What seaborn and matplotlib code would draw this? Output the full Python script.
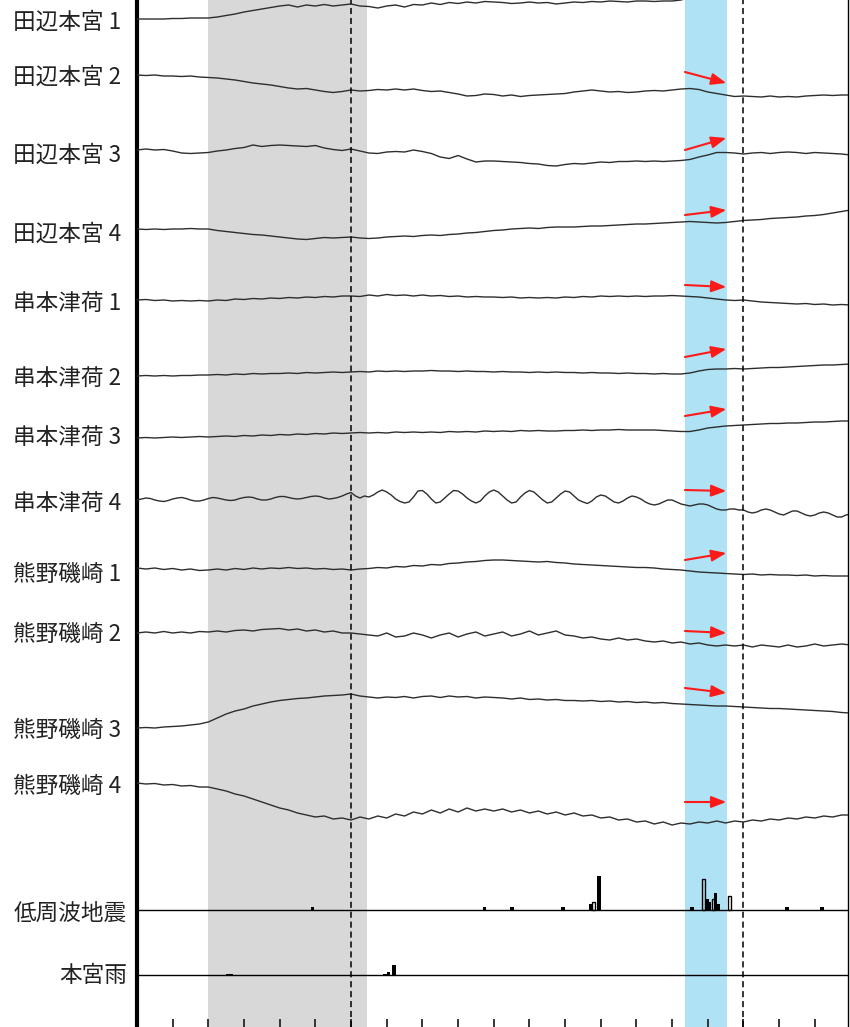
import numpy as np
import pandas as pd
import matplotlib
matplotlib.use('Agg')
import matplotlib.pyplot as plt
import seaborn as sns

# time axis: days, sampled every 6 hours (3 hours for the tidal-looking trace)
days = np.arange(0, 20.01, 0.25)
days_fine = np.arange(0, 20.01, 0.125)

stations = ['田辺本宮 1', '田辺本宮 2', '田辺本宮 3', '田辺本宮 4',
            '串本津荷 1', '串本津荷 2', '串本津荷 3', '串本津荷 4',
            '熊野磯崎 1', '熊野磯崎 2', '熊野磯崎 3', '熊野磯崎 4']

# tilt / strain changes (arbitrary units, up = positive)
tanabe1 = [0, 0, 0, 0, 0.5, 0.5, 1, 1, 1,
           2, 3.5, 5, 7, 8.5, 10, 11.5, 13,
           14, 12, 14, 13, 14.5, 13, 14, 15,
           13, 12.5, 11, 13, 14, 12, 14.5, 14,
           16, 14.5, 16.5, 15.5, 17, 16, 17.5, 17,
           16.5, 15.5, 16, 17, 16, 16.5, 15, 16,
           17, 16.5, 17.5, 17, 18, 17.5, 17, 18,
           18, 17.5, 18, 18, 19, 22, 26, 29,
           31, 33, 34, 35, 36, 37, 38, 39,
           39, 39, 39, 39, 39, 39, 39, 39]
tanabe2 = [0, -0.5, 0, -1, -1, -1.5, -1, -2, -2.5,
           -3, -4, -5, -6.5, -8, -9, -10, -11.5,
           -13, -14, -13.5, -15, -16.5, -17.5, -16.5, -15,
           -16, -15.5, -14.5, -15, -14, -15, -14, -15.5,
           -16.5, -16, -17.5, -19, -21, -20.5, -19, -19.5,
           -21, -20, -21.5, -20.5, -20, -19.5, -19, -18.5,
           -17, -16, -15, -16, -17, -16.5, -17.5, -17,
           -16, -15.5, -16, -15, -14, -13.5, -14.5, -17,
           -18.5, -20, -21.5, -21, -21.5, -22, -21, -22,
           -21.5, -22, -21, -20.5, -20, -20.5, -20, -20]
tanabe3 = [0, 1, 0, 0.5, -1, -3, -3.5, -3, -2.5,
           -1, 0, 1.5, 2.5, 5, 3.5, 4.5, 5,
           4.5, 4, 3.5, 4.5, 2, 0.5, -0.5, 1,
           -1, -3, -3.5, -2, -1.5, -2, 0, -1.5,
           -3.5, -7, -8.5, -5.5, -9, -12, -11, -11,
           -11.5, -12, -12.5, -13.5, -14, -15.5, -16, -14.5,
           -13.5, -14, -13, -12, -12.5, -11.5, -11.5, -11,
           -11.5, -11, -11.5, -11, -10.5, -9.5, -7, -5,
           -2.5, -2.5, -3, -4, -3, -2.5, -3.5, -2.5,
           -2, -2.5, -3.5, -2.5, -3, -3.5, -4, -5]
tanabe4 = [0, -0.5, 0, -0.5, 0, 0, 0.5, 0, 0,
           -1.5, -2.5, -3.5, -4.5, -5.5, -6, -7, -8,
           -9, -10, -10.5, -9.5, -8.5, -9, -8.5, -8,
           -9, -9.5, -9, -8, -7.5, -7, -7.5, -6.5,
           -6, -6.5, -5.5, -5, -4, -3.5, -2.5, -1.5,
           -1, 0, 0.5, 1, 0.5, 1.5, 2, 2,
           2, 2.5, 3, 3, 3.5, 4, 4.5, 5,
           5, 5.5, 6, 6.5, 7, 7.5, 7, 6.5,
           6, 6.5, 7.5, 8.5, 9, 9.5, 10.5, 11,
           11.5, 12, 13, 13.5, 14.5, 16, 17.5, 19]
kushimoto1 = [0, 0.5, -0.5, 0, -1, -0.5, -1, -0.5, -1,
              0, -0.5, 1, 0.5, 1.5, 1, 2, 1.5,
              2.5, 2, 3, 2.5, 3.5, 3, 4, 4,
              3.5, 5, 4, 5.5, 4.5, 5, 4, 5,
              4, 4.5, 3.5, 4, 3, 3.5, 3, 3,
              2.5, 3, 2, 2.5, 2, 2.5, 2, 3,
              2.5, 3.5, 3, 4, 3.5, 4, 3.5, 4,
              3.5, 4, 4, 4.5, 4, 3.5, 3, 2,
              1, 0, -0.5, 0, -1, -2, -2.5, -3,
              -3.5, -4, -3.5, -4.5, -4, -5, -4.5, -5]
kushimoto2 = [-1, -0.5, -1, -0.5, -1, -0.5, -0.5, 0, 0,
              0.5, 0, 1, 0.5, 1.5, 1, 1.5, 1.5,
              2, 1.5, 2.5, 2, 2.5, 3, 2.5, 3,
              3.5, 3, 4, 3.5, 4, 3.5, 4, 4,
              4.5, 4, 4, 3.5, 4, 3.5, 3.5, 3,
              3.5, 3, 3, 2.5, 3, 2.5, 3, 2.5,
              2.5, 2, 2.5, 2, 2, 1.5, 2, 1.5,
              1.5, 1, 1.5, 1, 1, 2, 4, 5.5,
              6, 6, 6.5, 6, 6.5, 7, 7.5, 7.5,
              8, 8.5, 9, 9.5, 10, 10, 10.5, 11]
kushimoto3 = [-1, -0.5, -1, -0.5, 0, -0.5, 0, 0.5, 0,
              0.5, 1, 0.5, 1.5, 1, 2, 1.5, 2.5,
              2, 3, 2.5, 3.5, 3, 4, 3.5, 4,
              4.5, 4, 4.5, 4, 5, 4.5, 5, 4.5,
              5, 4.5, 5.5, 5, 5.5, 5, 6, 5.5,
              6, 5.5, 6.5, 6, 6.5, 6, 6, 6.5,
              6.5, 7, 6.5, 7, 7, 7.5, 7, 7,
              7, 7, 6.5, 6, 5.5, 5.5, 7, 9,
              10, 11, 11.5, 12, 12.5, 13, 13.5, 13.5,
              14, 14, 14.5, 15, 15, 15.5, 16, 16]
# 3-hourly samples
kushimoto4 = [0,
              1, 2, 1.5, 0, -1, -1.5, -0.5, 1,
              2, 2.5, 1.5, 0, -1, -1, 0, 1.5,
              2.5, 2, 1, 0, -0.5, 0, 1.5, 2.5,
              3, 2.5, 1, 0, 0, 1, 2.5, 3.5,
              3.5, 2.5, 1.5, 1, 1.5, 2.5, 3.5, 4,
              3.5, 2, 1, 1.5, 2.5, 4, 6, 7.5,
              4, 2, 4, 3, 5, 8, 10, 8,
              5, 1, -1.5, -3, -2, 3, 9, 9.5,
              6, 1, -3, -2, 2, 6, 9.5, 9,
              6, 2, -1, -3, -1, 4, 8, 10,
              8, 4, 0, -3, -2, 3, 7, 9.5,
              8, 4, 0, -3, -2, 2, 6, 9,
              8, 4, 0, -2, -3.5, -1, 3, 5,
              4, 1, -2, -3, -1, 2, 4, 3,
              1, -2, -4, -5, -4, -2, 0, 0,
              -2, -4, -5, -6, -5, -4, -4, -5,
              -7, -9, -10, -10, -9, -9, -10, -10,
              -12, -13, -12, -10, -9, -10, -12, -14,
              -15, -13, -11, -11, -13, -15, -16, -15,
              -13, -12, -13, -15, -17, -17, -15, -14]
kumano1 = [0, -1, 0, -1.5, -0.5, -2, -1, -2.5, -2,
           -1, -2, -0.5, -1.5, 0, -1, 0, -0.5,
           0.5, -0.5, 0, -1, -0.5, -1.5, -1, -2,
           -1, -0.5, 0.5, 0, 1.5, 1, 2.5, 2,
           3.5, 3, 4.5, 5, 6, 6.5, 7.5, 8,
           8, 7.5, 7, 6.5, 6, 6.5, 5.5, 5,
           4, 3.5, 3, 2.5, 2, 1.5, 1, 0.5,
           0.5, 0, -1, -1.5, -2, -3, -4, -4.5,
           -5, -5.5, -6, -6.5, -6, -7, -6.5, -7,
           -7, -7.5, -7, -8, -7.5, -8, -8, -8]
kumano2 = [-1, 0, -1, 0.5, -1, 0, -1, 0.5, 0,
           1, 0, 1.5, 2, 1, 2.5, 3, 3.5,
           2, 3, 1, 2, 0, 1, -1, -1,
           -2, -3, -4, -1, -5, -4, -1, -3,
           -6, -3, -1, -5, -2, 0, -4, -2,
           0, -4, -2, 1, -3, -1, 1, -3,
           -4, -6, -5, -7, -8, -6, -8, -7,
           -9, -10, -9, -11, -10, -12, -11, -13,
           -14, -13, -14, -13, -15, -13, -14, -15,
           -13, -15, -14, -12, -14, -13, -12, -13]
kumano3 = [0, 0.5, 0, 1, 1.5, 2, 3, 4, 6,
           10, 14, 17, 19, 22, 24, 26, 27.5,
           28.5, 29.5, 30, 31, 32, 32.5, 33, 34,
           32, 31, 30, 31, 30.5, 31.5, 30, 31.5,
           32, 30.5, 32, 31, 31.5, 30, 31, 30.5,
           30, 29, 30, 28.5, 29, 28, 28.5, 27.5,
           27.5, 27, 27.5, 26.5, 27, 26, 26.5, 25.5,
           26, 25, 25.5, 24.5, 24, 23.5, 23, 22.5,
           22, 22, 21.5, 21, 20.5, 20, 19.5, 19.5,
           19, 18.5, 18, 17.5, 17, 16.5, 15.5, 15]
kumano4 = [0, -1, -0.5, -2, -1.5, -3, -2.5, -4, -4,
           -6, -8, -11, -13, -16, -19, -22, -25,
           -27, -30, -32, -34, -33, -36, -35, -37,
           -34, -36, -33, -35, -31, -33, -29, -31,
           -27, -30, -26, -29, -25, -28, -26, -28,
           -26, -29, -27, -30, -28, -31, -29, -32,
           -30, -33, -32, -35, -34, -37, -36, -39,
           -38, -41, -39, -42, -40, -41, -39, -40,
           -38, -40, -38, -39, -37, -38, -36, -37,
           -35, -36, -34, -35, -33, -34, -32, -32]

traces = [tanabe1, tanabe2, tanabe3, tanabe4,
          kushimoto1, kushimoto2, kushimoto3, kushimoto4,
          kumano1, kumano2, kumano3, kumano4]

# low frequency earthquakes (event day, count)
lfe_days = [4.93, 9.73, 10.51, 11.94, 12.72, 12.95, 15.56, 15.98, 16.05, 16.21, 16.31, 18.22, 19.2]
lfe_counts = [1, 1, 1, 1, 2, 12, 1, 4, 3, 6, 2, 1, 1]
lfe_days_other = [12.79, 15.88, 16.15, 16.6]
lfe_counts_other = [3, 11, 4, 5]

# rain at Hongu (day, mm)
rain_days = [2.55, 2.65, 6.95, 7.05, 7.2]
rain_mm = [0.5, 0.5, 0.5, 1, 3.5]

# layout (pixel rows from the top of the figure)
H = 1027
trace_rows = [19, 75, 150, 229, 300, 375, 437, 500, 568, 632, 728, 783]
label_rows = [22, 77, 155, 234, 303, 378, 437, 503, 574, 634, 730, 786]
lfe_row, rain_row = 910, 975
arrows = [(72, 83), (150, 138), (215, 210), (285, 287), (357, 349), (416, 409),
          (490, 491), (560, 553), (631, 633), (688, 693), (802, 802)]

sns.set_style('white')
plt.rcParams['font.family'] = ['Noto Sans CJK JP', 'DejaVu Sans']

fig = plt.figure(figsize=(8.5, 10.27), dpi=100)
ax = fig.add_axes([137 / 850, 0, 711 / 850, 1])
ax.set_xlim(0, 19.93)
ax.set_ylim(0, H)

ax.axvspan(2.0, 6.45, color='#d8d8d8', lw=0, zorder=0)
ax.axvspan(15.36, 16.54, color='#aee2f4', lw=0, zorder=0)
for d in (6.0, 17.0):
    ax.axvline(d, color='black', ls=(0, (4, 2.5)), lw=1.1, zorder=4)

frames = []
for name, vals, row in zip(stations, traces, trace_rows):
    t = days_fine if len(vals) == len(days_fine) else days
    frames.append(pd.DataFrame({'day': t, 'y': H - row + np.asarray(vals, float), 'station': name}))
df = pd.concat(frames, ignore_index=True)
sns.lineplot(data=df, x='day', y='y', units='station', estimator=None,
             color='#2e2e2e', lw=1.0, ax=ax, legend=False, zorder=3)

# event bars
ax.axhline(H - lfe_row, color='black', lw=1.0, zorder=3)
ax.axhline(H - rain_row, color='black', lw=1.0, zorder=3)
ax.bar(lfe_days, np.array(lfe_counts) * 2.8, width=0.09, bottom=H - lfe_row,
       color='black', lw=0, zorder=3)
ax.bar(lfe_days_other, np.array(lfe_counts_other) * 2.8, width=0.09, bottom=H - lfe_row,
       facecolor='none', edgecolor='black', lw=1.0, zorder=3)
ax.bar(rain_days, np.array(rain_mm) * 3, width=0.1, bottom=H - rain_row,
       color='black', lw=0, zorder=3)

for y0, y1 in arrows:
    ax.annotate('', xy=(16.52, H - y1), xytext=(15.36, H - y0),
                arrowprops=dict(arrowstyle='-|>,head_length=0.9,head_width=0.35',
                                color='#ff1a1a', lw=1.5, shrinkA=0, shrinkB=0), zorder=5)

for name, row in zip(stations, label_rows):
    fig.text(13 / 850, 1 - row / H, name, fontsize=16.3, va='center', ha='left', color='#222222')
fig.text(127 / 850, 1 - 913 / H, '低周波地震', fontsize=16.3, va='center', ha='right', color='#222222')
fig.text(127 / 850, 1 - 975 / H, '本宮雨', fontsize=16.3, va='center', ha='right', color='#222222')

ax.set_xticks(range(1, 20))
ax.set_yticks([])
ax.tick_params(axis='x', bottom=True, direction='in', length=6, width=1.3, labelbottom=False)
ax.set_xlabel('')
ax.set_ylabel('')
for s in ('top', 'bottom'):
    ax.spines[s].set_visible(False)
ax.spines['left'].set_linewidth(3)
ax.spines['left'].set_color('black')
ax.spines['right'].set_linewidth(1)
ax.spines['right'].set_color('black')

fig.savefig('out.png', dpi=100)
